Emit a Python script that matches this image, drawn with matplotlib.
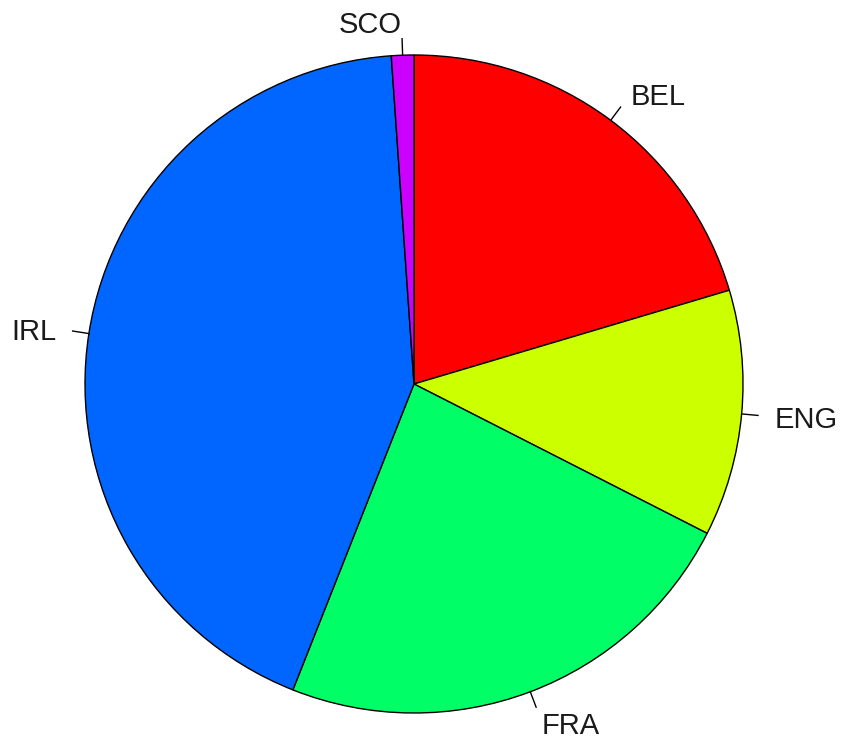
import matplotlib.pyplot as plt
import numpy as np

labels = ["BEL", "ENG", "FRA", "IRL", "SCO"]
shares = [20.4, 12.1, 23.5, 42.9, 1.1]
colors = ["#FF0000", "#CCFF00", "#00FF66", "#0066FF", "#CC00FF"]

plt.rcParams["font.family"] = ["Liberation Sans", "DejaVu Sans"]

fig = plt.figure(figsize=(8.41, 7.42), dpi=100)
ax = fig.add_axes([0, 0, 1, 1])

wedges, texts = ax.pie(shares, labels=labels, colors=colors, startangle=90,
                       counterclock=False, radius=1, labeldistance=1.1,
                       wedgeprops=dict(edgecolor="black", linewidth=1.0),
                       textprops=dict(fontsize=21, color="#1a1a1a"))
for t in texts:
    t.set_va("center_baseline")

# little tick lines like base R pie()
for w in wedges:
    mid = np.deg2rad((w.theta1 + w.theta2) / 2)
    ax.plot([np.cos(mid), 1.05 * np.cos(mid)], [np.sin(mid), 1.05 * np.sin(mid)],
            color="black", linewidth=1.0)

ax.set_xlim(-414 / 329, (841 - 414) / 329)
ax.set_ylim(-358 / 329, 384 / 329)
ax.set_aspect("equal")
ax.axis("off")

fig.savefig("out.png", dpi=100, facecolor="white")
